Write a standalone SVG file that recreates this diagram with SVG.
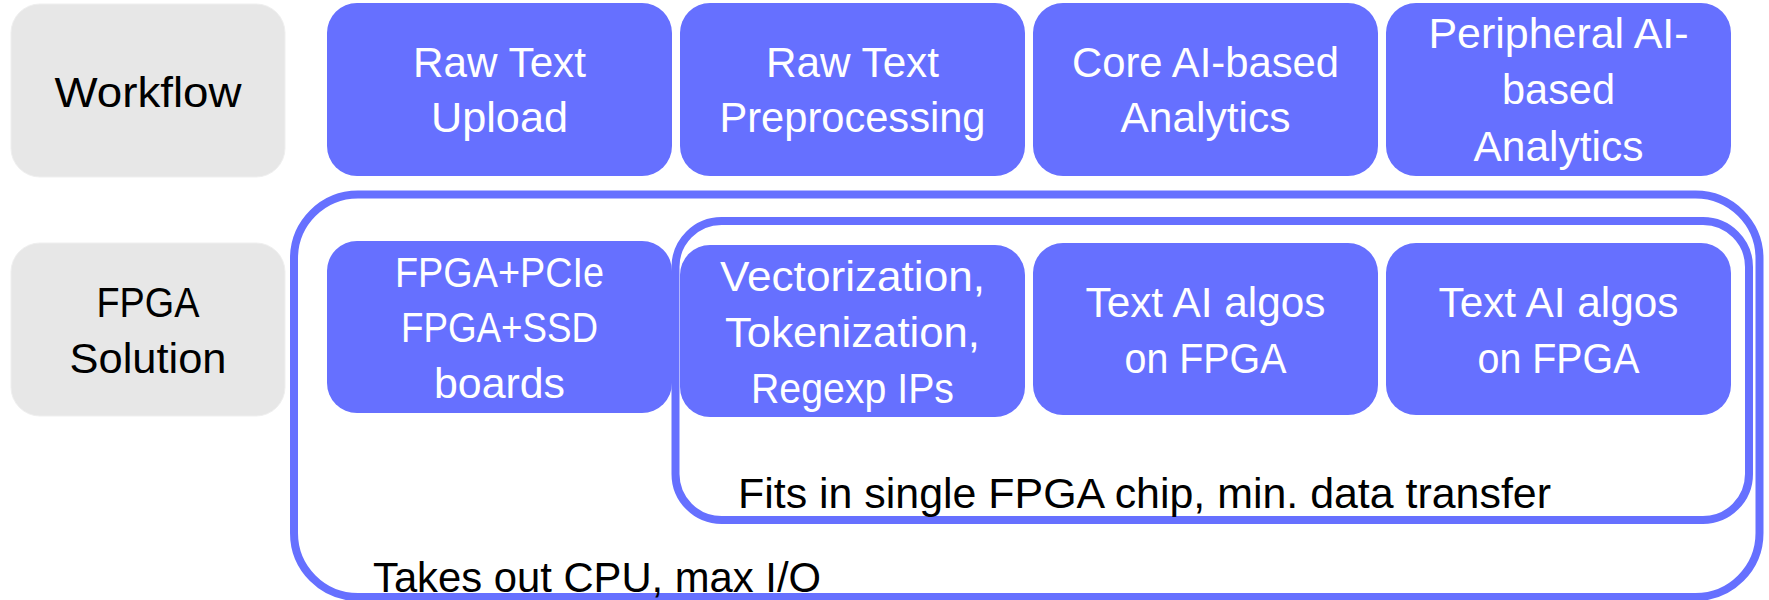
<svg xmlns="http://www.w3.org/2000/svg" width="1769" height="600" viewBox="0 0 1769 600">
<style>
.gray{fill:#e7e7e7;stroke:#efefef;stroke-width:1}
.blue{fill:#6670ff}
.frame{fill:none;stroke:#6670ff;stroke-width:8}
text{font-family:"Liberation Sans",Arial,sans-serif;font-size:42px}
.w{fill:#ffffff;text-anchor:middle}
.k{fill:#000000;text-anchor:middle}
.lbl{fill:#000000}
</style>
<rect width="1769" height="600" fill="#ffffff"/>
<g id="containers">
  <g id="cpu-frame">
    <rect class="frame" x="294" y="194.5" width="1465.5" height="402.5" rx="64"/>
    <text class="lbl" x="373" y="592" textLength="448" lengthAdjust="spacingAndGlyphs">Takes out CPU, max I/O</text>
  </g>
  <g id="chip-frame">
    <rect class="frame" x="675.5" y="221" width="1073.5" height="299" rx="46"/>
    <text class="lbl" x="738" y="508" textLength="813" lengthAdjust="spacingAndGlyphs">Fits in single FPGA chip, min. data transfer</text>
  </g>
</g>
<g id="row-workflow">
  <g id="label-workflow">
    <rect class="gray" x="11" y="4" width="274" height="173" rx="29"/>
    <text class="k" x="148" y="107" textLength="187" lengthAdjust="spacingAndGlyphs">Workflow</text>
  </g>
  <g id="raw-text-upload">
    <rect class="blue" x="327" y="3" width="345" height="173" rx="30"/>
    <text class="w" x="499.5" y="77" textLength="173" lengthAdjust="spacingAndGlyphs">Raw Text</text>
    <text class="w" x="499.5" y="132" textLength="137" lengthAdjust="spacingAndGlyphs">Upload</text>
  </g>
  <g id="raw-text-preprocessing">
    <rect class="blue" x="680" y="3" width="345" height="173" rx="30"/>
    <text class="w" x="852.5" y="77" textLength="173" lengthAdjust="spacingAndGlyphs">Raw Text</text>
    <text class="w" x="852.5" y="132" textLength="266" lengthAdjust="spacingAndGlyphs">Preprocessing</text>
  </g>
  <g id="core-ai-analytics">
    <rect class="blue" x="1033" y="3" width="345" height="173" rx="30"/>
    <text class="w" x="1205.5" y="77" textLength="267" lengthAdjust="spacingAndGlyphs">Core AI-based</text>
    <text class="w" x="1205.5" y="132" textLength="170" lengthAdjust="spacingAndGlyphs">Analytics</text>
  </g>
  <g id="peripheral-ai-analytics">
    <rect class="blue" x="1386" y="3" width="345" height="173" rx="30"/>
    <text class="w" x="1558.5" y="48" textLength="260" lengthAdjust="spacingAndGlyphs">Peripheral AI-</text>
    <text class="w" x="1558.5" y="104" textLength="113" lengthAdjust="spacingAndGlyphs">based</text>
    <text class="w" x="1558.5" y="161" textLength="170" lengthAdjust="spacingAndGlyphs">Analytics</text>
  </g>
</g>
<g id="row-fpga">
  <g id="label-fpga-solution">
    <rect class="gray" x="11" y="243" width="274" height="173" rx="29"/>
    <text class="k" x="148" y="317" textLength="103" lengthAdjust="spacingAndGlyphs">FPGA</text>
    <text class="k" x="148" y="373" textLength="157" lengthAdjust="spacingAndGlyphs">Solution</text>
  </g>
  <g id="fpga-boards">
    <rect class="blue" x="327" y="241" width="345" height="172" rx="30"/>
    <text class="w" x="499.5" y="287" textLength="209" lengthAdjust="spacingAndGlyphs">FPGA+PCIe</text>
    <text class="w" x="499.5" y="342" textLength="197" lengthAdjust="spacingAndGlyphs">FPGA+SSD</text>
    <text class="w" x="499.5" y="398" textLength="131" lengthAdjust="spacingAndGlyphs">boards</text>
  </g>
  <g id="vectorization-ips">
    <rect class="blue" x="680" y="245" width="345" height="172" rx="30"/>
    <text class="w" x="852.5" y="291" textLength="265" lengthAdjust="spacingAndGlyphs">Vectorization,</text>
    <text class="w" x="852.5" y="347" textLength="255" lengthAdjust="spacingAndGlyphs">Tokenization,</text>
    <text class="w" x="852.5" y="403" textLength="203" lengthAdjust="spacingAndGlyphs">Regexp IPs</text>
  </g>
  <g id="text-ai-fpga-1">
    <rect class="blue" x="1033" y="243" width="345" height="172" rx="30"/>
    <text class="w" x="1205.5" y="317" textLength="240" lengthAdjust="spacingAndGlyphs">Text AI algos</text>
    <text class="w" x="1205.5" y="373" textLength="162" lengthAdjust="spacingAndGlyphs">on FPGA</text>
  </g>
  <g id="text-ai-fpga-2">
    <rect class="blue" x="1386" y="243" width="345" height="172" rx="30"/>
    <text class="w" x="1558.5" y="317" textLength="240" lengthAdjust="spacingAndGlyphs">Text AI algos</text>
    <text class="w" x="1558.5" y="373" textLength="162" lengthAdjust="spacingAndGlyphs">on FPGA</text>
  </g>
</g>
</svg>
